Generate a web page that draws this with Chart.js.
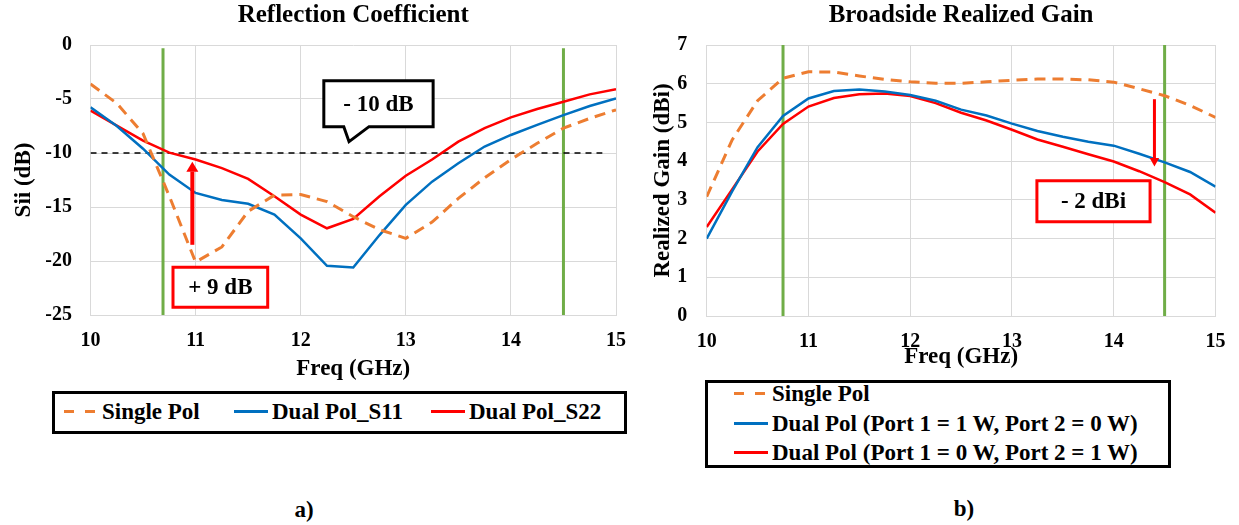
<!DOCTYPE html>
<html>
<head>
<meta charset="utf-8">
<script src="https://cdn.jsdelivr.net/npm/chart.js@4.4.1/dist/chart.umd.min.js"></script>
<style>
  html, body { margin: 0; padding: 0; background: #fff; }
  body {
    width: 1239px; height: 525px; position: relative; overflow: hidden;
    font-family: 'Liberation Serif', 'Times New Roman', Times, serif; font-weight: bold; color: #000;
  }
  canvas { position: absolute; top: 0; }
  #reflChart { left: 0; }
  #gainChart { left: 620px; }
  .legend { position: absolute; border: 3px solid #000; box-sizing: border-box; background: #fff; }
  .item {
    position: absolute; display: flex; align-items: center; transform: translateY(-50%);
    font-size: 23px; line-height: 1; white-space: nowrap;
    font-family: 'Liberation Serif', 'Times New Roman', Times, serif;
  }
  .item svg { margin-right: 4px; flex: none; }
  .cap { position: absolute; font-size: 23px; transform: translate(-50%, -50%);
         font-family: 'Liberation Serif', 'Times New Roman', Times, serif; }
</style>
</head>
<body>
<canvas id="reflChart" width="640" height="390"></canvas>
<canvas id="gainChart" width="619" height="390"></canvas>
<div id="legRefl" class="legend" style="left:52px; top:391px; width:575px; height:43px;"></div>
<div id="legGain" class="legend" style="left:705px; top:380px; width:466px; height:88px;"></div>
<div class="cap" style="left:304px; top:510px;">a)</div>
<div class="cap" style="left:964px; top:509px;">b)</div>

<script>
// Frequency sweep (GHz)
const freqGHz = [10, 10.25, 10.5, 10.75, 11, 11.25, 11.5, 11.75, 12, 12.25, 12.5,
                 12.75, 13, 13.25, 13.5, 13.75, 14, 14.25, 14.5, 14.75, 15];

// Reflection coefficient (dB)
const reflSinglePol = [-3.6, -5.4, -8.2, -14.0, -20.1, -18.7, -15.4, -13.9, -13.85, -14.5, -15.9,
                       -17.1, -17.9, -16.4, -14.2, -12.3, -10.6, -9.1, -7.7, -6.8, -6.0];
const reflDualS11   = [-5.77, -7.5, -9.6, -12.0, -13.7, -14.35, -14.7, -15.7, -17.9, -20.45, -20.6,
                       -17.6, -14.8, -12.65, -10.95, -9.4, -8.33, -7.4, -6.5, -5.65, -4.94];
const reflDualS22   = [-6.08, -7.47, -8.86, -9.97, -10.6, -11.4, -12.4, -14.0, -15.7, -16.97, -16.1,
                       -14.0, -12.1, -10.6, -8.95, -7.7, -6.7, -5.93, -5.25, -4.57, -4.1];

// Broadside realized gain (dBi)
const gainSinglePol = [3.08, 4.55, 5.56, 6.14, 6.31, 6.3, 6.2, 6.11, 6.05, 6.01, 6.01,
                       6.05, 6.09, 6.12, 6.12, 6.1, 6.04, 5.87, 5.69, 5.44, 5.13];
const gainPort1     = [2.0, 3.22, 4.36, 5.17, 5.62, 5.81, 5.85, 5.8, 5.71, 5.56, 5.33,
                       5.18, 4.97, 4.78, 4.63, 4.5, 4.4, 4.19, 3.97, 3.72, 3.34];
const gainPort2     = [2.3, 3.27, 4.25, 4.96, 5.41, 5.63, 5.73, 5.75, 5.68, 5.5, 5.25,
                       5.05, 4.81, 4.56, 4.37, 4.18, 3.99, 3.74, 3.46, 3.14, 2.67];

// Operating band edges (GHz) and the matching limit (dB)
const bandEdgesRefl = [10.69, 14.5];
const bandEdgesGain = [10.75, 14.5];
const matchLimitDb = -10;
const matchLimitSpan = [10, 14.87];

// Series names
const reflLabels = ['Single Pol', 'Dual Pol_S11', 'Dual Pol_S22'];
const gainLabels = ['Single Pol', 'Dual Pol (Port 1 = 1 W, Port 2 = 0 W)', 'Dual Pol (Port 1 = 0 W, Port 2 = 1 W)'];

// Annotation texts
const reflLimitText = '- 10 dB';
const reflGainText = '+ 9 dB';
const gainDropText = '- 2 dBi';

const COLORS = { single: '#ED7D31', port1: '#0070C0', port2: '#FF0000', band: '#70AD47', grid: '#D9D9D9' };
const SINGLE_DASH = [11, 7];
const FONT = "'Liberation Serif', 'Times New Roman', Times, serif";

Chart.defaults.font.family = FONT;
Chart.defaults.color = '#000';

const toPoints = (xs, ys) => xs.map((x, i) => ({ x, y: ys[i] }));

function seriesDatasets(labels, values) {
  const styles = [
    { borderColor: COLORS.single, borderWidth: 3, borderDash: SINGLE_DASH },
    { borderColor: COLORS.port1, borderWidth: 2.5 },
    { borderColor: COLORS.port2, borderWidth: 2.5 }
  ];
  return labels.map((label, i) => Object.assign({
    label, data: toPoints(freqGHz, values[i]), pointRadius: 0, tension: 0,
    borderCapStyle: 'butt', fill: false
  }, styles[i]));
}

function bandDatasets(edges, yTop, yBottom) {
  return edges.map(f => ({
    label: 'band', data: [{ x: f, y: yTop }, { x: f, y: yBottom }],
    borderColor: COLORS.band, borderWidth: 3, pointRadius: 0, fill: false
  }));
}

// Boxes, callout and arrows placed in data space
const calloutPlugin = {
  id: 'callouts',
  afterDatasetsDraw(chart, args, opts) {
    const { ctx, scales: { x, y } } = chart;
    ctx.save();
    (opts.arrows || []).forEach(a => {
      const px = x.getPixelForValue(a.x);
      const p0 = y.getPixelForValue(a.from);
      const p1 = y.getPixelForValue(a.to);
      const dir = Math.sign(p1 - p0);
      const base = p1 - dir * a.headLen;
      ctx.strokeStyle = a.color; ctx.fillStyle = a.color; ctx.lineWidth = a.width;
      ctx.beginPath(); ctx.moveTo(px, p0); ctx.lineTo(px, base); ctx.stroke();
      ctx.beginPath(); ctx.moveTo(px, p1);
      ctx.lineTo(px - a.headW / 2, base); ctx.lineTo(px + a.headW / 2, base);
      ctx.closePath(); ctx.fill();
    });
    (opts.boxes || []).forEach(b => {
      const l = x.getPixelForValue(b.x0), r = x.getPixelForValue(b.x1);
      const t = y.getPixelForValue(b.y0), bt = y.getPixelForValue(b.y1);
      ctx.beginPath();
      ctx.moveTo(l, t); ctx.lineTo(r, t); ctx.lineTo(r, bt);
      if (b.tail) {
        ctx.lineTo(x.getPixelForValue(b.tail.right), bt);
        ctx.lineTo(x.getPixelForValue(b.tail.tipX), y.getPixelForValue(b.tail.tipY));
        ctx.lineTo(x.getPixelForValue(b.tail.left), bt);
      }
      ctx.lineTo(l, bt); ctx.closePath();
      ctx.fillStyle = '#fff'; ctx.fill();
      ctx.lineJoin = 'miter'; ctx.lineWidth = b.width; ctx.strokeStyle = b.color; ctx.stroke();
      ctx.fillStyle = '#000';
      ctx.font = 'bold 23px ' + FONT;
      ctx.textAlign = 'center'; ctx.textBaseline = 'middle';
      ctx.fillText(b.text, (l + r) / 2, (t + bt) / 2 + 1);
    });
    ctx.restore();
  }
};

function makeOptions(cfg) {
  return {
    responsive: false, animation: false, events: [],
    layout: { padding: { left: 0, right: cfg.padRight, top: 0, bottom: 0 } },
    plugins: {
      legend: { display: false },
      tooltip: { enabled: false },
      title: {
        display: true, text: cfg.title, fullSize: false, color: '#000',
        font: { family: FONT, size: 25, weight: 'bold', lineHeight: 1.2 },
        padding: { top: 1, bottom: 14 }
      },
      callouts: cfg.callouts
    },
    scales: {
      x: {
        type: 'linear', min: 10, max: 15,
        afterFit: s => { s.height = cfg.xHeight; },
        grid: { color: COLORS.grid, lineWidth: 1, drawTicks: false },
        border: { color: COLORS.grid, width: 1 },
        ticks: { stepSize: 1, autoSkip: false, maxRotation: 0, padding: cfg.xTickPad,
                 font: { family: FONT, size: 20, weight: 'bold', lineHeight: 1.2 }, color: '#000' },
        title: { display: true, text: 'Freq (GHz)', color: '#000',
                 font: { family: FONT, size: 23, weight: 'bold', lineHeight: 1.2 },
                 padding: { top: 0, bottom: cfg.xTitlePad } }
      },
      y: {
        min: cfg.yMin, max: cfg.yMax,
        afterFit: s => { s.width = cfg.yWidth; },
        grid: { color: COLORS.grid, lineWidth: 1, drawTicks: false },
        border: { color: COLORS.grid, width: 1 },
        ticks: { stepSize: cfg.yStep, padding: cfg.yTickPad,
                 font: { family: FONT, size: 20, weight: 'bold', lineHeight: 1.2 }, color: '#000' },
        title: { display: true, text: cfg.yTitle, color: '#000',
                 font: { family: FONT, size: 23, weight: 'bold', lineHeight: 1.2 },
                 padding: { top: cfg.yTitlePad, bottom: 0 } }
      }
    }
  };
}

// a) Reflection coefficient
new Chart(document.getElementById('reflChart'), {
  type: 'line',
  data: {
    datasets: [
      ...seriesDatasets(reflLabels, [reflSinglePol, reflDualS11, reflDualS22]),
      { label: 'limit', data: matchLimitSpan.map(f => ({ x: f, y: matchLimitDb })),
        borderColor: '#000', borderWidth: 1.6, borderDash: [6, 5], pointRadius: 0, fill: false },
      ...bandDatasets(bandEdgesRefl, -0.3, -25)
    ]
  },
  options: makeOptions({
    title: 'Reflection Coefficient', padRight: 22,
    xHeight: 75, xTickPad: 14, xTitlePad: 7,
    yMin: -25, yMax: 0, yStep: 5, yWidth: 90.5, yTickPad: 18.5, yTitlePad: 10,
    yTitle: 'Sii (dB)',
    callouts: {
      boxes: [
        { x0: 12.22, x1: 13.26, y0: -3.31, y1: -7.56, color: '#000', width: 3, text: reflLimitText,
          tail: { left: 12.41, tipX: 12.46, tipY: -8.95, right: 12.65 } },
        { x0: 10.785, x1: 11.686, y0: -20.58, y1: -24.29, color: '#FF0000', width: 3, text: reflGainText }
      ],
      arrows: [
        { x: 10.969, from: -18.5, to: -10.8, color: '#FF0000', width: 4, headW: 12, headLen: 10 }
      ]
    }
  }),
  plugins: [calloutPlugin]
});

// b) Broadside realized gain
new Chart(document.getElementById('gainChart'), {
  type: 'line',
  data: {
    datasets: [
      ...seriesDatasets(gainLabels, [gainSinglePol, gainPort1, gainPort2]),
      ...bandDatasets(bandEdgesGain, 7, 0)
    ]
  },
  options: makeOptions({
    title: 'Broadside Realized Gain', padRight: 20,
    xHeight: 74, xTickPad: 13.5, xTitlePad: 19,
    yMin: 0, yMax: 7, yStep: 1, yWidth: 86.7, yTickPad: 19.5, yTitlePad: 29,
    yTitle: 'Realized Gain (dBi)',
    callouts: {
      boxes: [
        { x0: 13.245, x1: 14.357, y0: 3.496, y1: 2.437, color: '#FF0000', width: 3, text: gainDropText }
      ],
      arrows: [
        { x: 14.40, from: 5.6, to: 3.86, color: '#FF0000', width: 3, headW: 9.5, headLen: 8.5 }
      ]
    }
  }),
  plugins: [calloutPlugin]
});

// Legends built from the series names and line styles
function sampleSvg(i) {
  const color = [COLORS.single, COLORS.port1, COLORS.port2][i];
  const dash = i === 0 ? ' stroke-dasharray="10 11"' : '';
  return '<svg width="34" height="4"><line x1="0" y1="2" x2="34" y2="2" stroke="' + color +
         '" stroke-width="3"' + dash + '/></svg>';
}
function buildLegend(id, labels, positions) {
  const box = document.getElementById(id);
  labels.forEach((label, i) => {
    const el = document.createElement('div');
    el.className = 'item';
    el.style.left = positions[i][0] + 'px';
    el.style.top = positions[i][1] + 'px';
    el.innerHTML = sampleSvg(i) + '<span>' + label + '</span>';
    box.appendChild(el);
  });
}
buildLegend('legRefl', reflLabels, [[9, 17], [179, 17], [376, 17]]);
buildLegend('legGain', gainLabels, [[26, 10], [26, 40], [26, 69]]);
</script>
</body>
</html>
